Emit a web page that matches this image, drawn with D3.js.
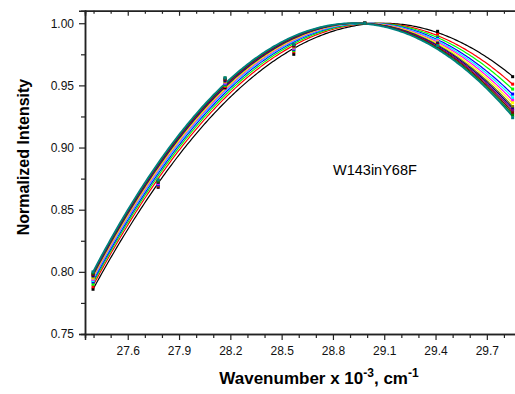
<!DOCTYPE html>
<html>
<head>
<meta charset="utf-8">
<script src="https://cdn.jsdelivr.net/npm/d3@7"></script>
<style>
  body { margin: 0; background: #fff; }
  text { font-family: "Liberation Sans", Arial, sans-serif; }
</style>
</head>
<body>
<svg id="chart" width="515" height="394"></svg>
<script>
// wavenumbers (x 10^-3 cm^-1) of the measured points
const wavenumbers = [27.397, 27.778, 28.169, 28.571, 28.986, 29.412, 29.851];

// series colours (Origin default order)
const colors = ["#000000", "#ff0000", "#00ff00", "#0000ff", "#00ffff", "#ff00ff",
  "#ffff00", "#808000", "#000080", "#800080", "#800000", "#008000", "#008080"];

// measured points, one array per wavenumber, one value per series
const at27397 = [0.786, 0.788, 0.790, 0.792, 0.793, 0.794, 0.795, 0.796, 0.797, 0.798, 0.798, 0.799, 0.800];
const at27778 = [0.868, 0.869, 0.870, 0.870, 0.871, 0.871, 0.872, 0.872, 0.872, 0.873, 0.873, 0.873, 0.874];
const at28169 = [0.948, 0.949, 0.950, 0.951, 0.952, 0.952, 0.953, 0.953, 0.954, 0.955, 0.955, 0.956, 0.956];
const at28571 = [0.975, 0.977, 0.978, 0.979, 0.980, 0.980, 0.981, 0.981, 0.982, 0.982, 0.982, 0.983, 0.983];
const at28986 = [1.000, 1.000, 1.000, 1.000, 1.000, 1.000, 1.000, 1.000, 1.000, 1.000, 1.000, 1.000, 1.000];
const at29412 = [0.9935, 0.991, 0.989, 0.988, 0.987, 0.986, 0.985, 0.984, 0.984, 0.983, 0.983, 0.982, 0.982];
const at29851 = [0.957, 0.951, 0.947, 0.943, 0.940, 0.938, 0.936, 0.933, 0.931, 0.930, 0.928, 0.926, 0.924];
const pointCols = [at27397, at27778, at28169, at28571, at28986, at29412, at29851];

// fitted curve values at the two ends of the range (peak = 1)
const fitLeft  = [0.786, 0.789, 0.791, 0.7925, 0.794, 0.795, 0.796, 0.797, 0.7977, 0.7984, 0.799, 0.7995, 0.800];
const fitRight = [0.9573, 0.9508, 0.9468, 0.9427, 0.9403, 0.9379, 0.9355, 0.9331, 0.9315, 0.9298, 0.9282, 0.9266, 0.925];

const xTicks = [27.6, 27.9, 28.2, 28.5, 28.8, 29.1, 29.4, 29.7];
const yTicks = [0.75, 0.80, 0.85, 0.90, 0.95, 1.00];

const svg = d3.select("#chart");
const x = d3.scaleLinear().domain([27.35, 29.87]).range([85, 515.9]);
const y = d3.scaleLinear().domain([0.75, 1.01]).range([334, 10.8]);

// quadratic peak through the two fitted end values
function fitCurve(i) {
  const x0 = wavenumbers[0], x1 = wavenumbers[6];
  const r = Math.sqrt((1 - fitLeft[i]) / (1 - fitRight[i]));
  const c = (x0 + r * x1) / (1 + r);
  const a = (1 - fitLeft[i]) / ((c - x0) * (c - x0));
  return d3.range(x0, x1 + 0.001, 0.01).map(v => [v, 1 - a * (v - c) * (v - c)]);
}

const line = d3.line().x(d => x(d[0])).y(d => y(d[1]));

// 曲線
const curves = svg.append("g");
colors.forEach((col, i) => {
  curves.append("path")
    .attr("d", line(fitCurve(i)))
    .attr("fill", "none")
    .attr("stroke", col)
    .attr("stroke-width", i === colors.length - 1 ? 1.8 : 1.2);
});

// 資料點
const pts = svg.append("g");
colors.forEach((col, i) => {
  pts.selectAll(null)
    .data(wavenumbers.map((w, j) => [w, pointCols[j][i]]))
    .join("rect")
    .attr("x", d => x(d[0]) - 1.5)
    .attr("y", d => y(d[1]) - 1.5)
    .attr("width", 3)
    .attr("height", 3)
    .attr("fill", col);
});

// 座標軸
const minorX = d3.range(27.4, 29.86, 0.1).filter(v => !xTicks.some(t => Math.abs(t - v) < 1e-6));
const minorY = [0.775, 0.825, 0.875, 0.925, 0.975];

function styleAxis(g) {
  g.select(".domain").attr("stroke", "#222").attr("stroke-width", 1.5);
  g.selectAll(".tick line").attr("stroke", "#222").attr("stroke-width", 1.2);
  g.selectAll("text").attr("font-size", 12).attr("fill", "#111")
    .style("font-family", "'Liberation Sans', Arial, sans-serif");
}

svg.append("g").attr("transform", "translate(0,334)")
  .call(d3.axisBottom(x).tickValues(xTicks).tickFormat(d3.format(".1f")).tickSizeOuter(0).tickSize(6).tickPadding(6))
  .call(styleAxis);
svg.append("g").attr("transform", "translate(0,334)")
  .call(d3.axisBottom(x).tickValues(minorX).tickFormat("").tickSizeOuter(0).tickSize(4))
  .call(styleAxis);

svg.append("g").attr("transform", "translate(0,10.8)")
  .call(d3.axisTop(x).tickValues(xTicks).tickFormat("").tickSizeOuter(0).tickSize(-5))
  .call(styleAxis);
svg.append("g").attr("transform", "translate(0,10.8)")
  .call(d3.axisTop(x).tickValues(minorX).tickFormat("").tickSizeOuter(0).tickSize(-3))
  .call(styleAxis);

svg.append("g").attr("transform", "translate(85,0)")
  .call(d3.axisLeft(y).tickValues(yTicks).tickFormat(d3.format(".2f")).tickSizeOuter(0).tickSize(6).tickPadding(5))
  .call(styleAxis);
svg.append("g").attr("transform", "translate(85,0)")
  .call(d3.axisLeft(y).tickValues(minorY).tickFormat("").tickSizeOuter(0).tickSize(4))
  .call(styleAxis);

// 標籤
svg.append("text")
  .attr("transform", "translate(29,157) rotate(-90)")
  .attr("text-anchor", "middle")
  .attr("font-size", 16).attr("font-weight", "bold")
  .text("Normalized Intensity");

const xl = svg.append("text")
  .attr("x", 319).attr("y", 384)
  .attr("text-anchor", "middle")
  .attr("font-size", 17).attr("font-weight", "bold");
xl.append("tspan").text("Wavenumber x 10");
xl.append("tspan").attr("dy", -7).attr("font-size", 12).text("-3");
xl.append("tspan").attr("dy", 7).text(", cm");
xl.append("tspan").attr("dy", -7).attr("font-size", 12).text("-1");

svg.append("text")
  .attr("x", 333).attr("y", 175)
  .attr("font-size", 14.5)
  .text("W143inY68F");
</script>
</body>
</html>
